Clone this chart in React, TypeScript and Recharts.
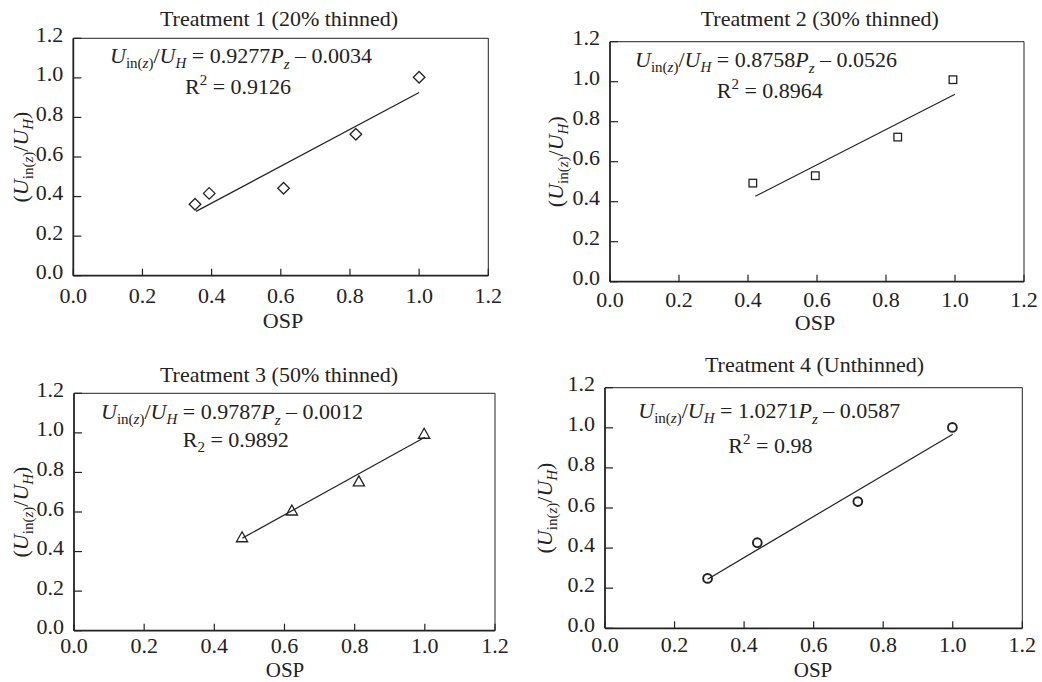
import React from 'react';
import { ScatterChart, Scatter, XAxis, YAxis, ReferenceLine } from 'recharts';

const FONT = '"Liberation Serif", "Times New Roman", Times, serif';
const INK = '#222';

// Shared axis ticks (OSP on x, velocity ratio on y)
const axisTicks = [0, 0.2, 0.4, 0.6, 0.8, 1.0, 1.2];

// Panel titles and regression annotations
const titles = [
  'Treatment 1 (20% thinned)',
  'Treatment 2 (30% thinned)',
  'Treatment 3 (50% thinned)',
  'Treatment 4 (Unthinned)',
];
const slopes = ['0.9277', '0.8758', '0.9787', '1.0271'];
const intercepts = ['0.0034', '0.0526', '0.0012', '0.0587'];
const rSquared = ['0.9126', '0.8964', '0.9892', '0.98'];

// Treatment 1 observations
const osp1 = [0.352, 0.393, 0.608, 0.817, 1.0];
const ratio1 = [0.361, 0.416, 0.442, 0.715, 1.003];
// Treatment 2 observations
const osp2 = [0.414, 0.595, 0.834, 0.994];
const ratio2 = [0.493, 0.53, 0.723, 1.01];
// Treatment 3 observations
const osp3 = [0.479, 0.621, 0.812, 0.998];
const ratio3 = [0.475, 0.61, 0.757, 0.998];
// Treatment 4 observations
const osp4 = [0.295, 0.438, 0.727, 0.999];
const ratio4 = [0.249, 0.427, 0.632, 1.002];

// Fitted line end points
const fitOsp1 = [0.355, 1.0];
const fitRatio1 = [0.325, 0.926];
const fitOsp2 = [0.421, 1.0];
const fitRatio2 = [0.427, 0.937];
const fitOsp3 = [0.48, 1.0];
const fitRatio3 = [0.468, 0.978];
const fitOsp4 = [0.295, 1.0];
const fitRatio4 = [0.245, 0.968];

const toPoints = (xs: number[], ys: number[]) => xs.map((x, i) => ({ x, y: ys[i] }));

type Marker = 'diamond' | 'square' | 'triangle' | 'circle';

const MarkerShape = ({ cx, cy, kind }: { cx: number; cy: number; kind: Marker }) => {
  const common = { fill: 'none', stroke: INK };
  if (kind === 'diamond') {
    const r = 5.8;
    return <path d={`M${cx},${cy - r}L${cx + r},${cy}L${cx},${cy + r}L${cx - r},${cy}Z`} {...common} strokeWidth={1.3} />;
  }
  if (kind === 'square') {
    const h = 3.8;
    return <rect x={cx - h} y={cy - h} width={2 * h} height={2 * h} {...common} strokeWidth={1.3} />;
  }
  if (kind === 'triangle') {
    const w = 5.6;
    const ht = 10;
    return (
      <path
        d={`M${cx},${cy - ht / 2}L${cx + w},${cy + ht / 2}L${cx - w},${cy + ht / 2}Z`}
        {...common}
        strokeWidth={1.3}
      />
    );
  }
  return <circle cx={cx} cy={cy} r={4.4} {...common} strokeWidth={1.9} />;
};

interface PanelCfg {
  left: number;
  top: number;
  width: number;
  height: number;
  plot: { l: number; t: number; r: number; b: number };
  titleX: number;
  titleY: number;
  eqX: number;
  eqY: number;
  rX: number;
  rY: number;
  yLabOff: number;
  ospX: number;
  ospDy: number;
  ospSize: number;
  xTickDy: number;
  rSub: boolean;
  marker: Marker;
  points: { x: number; y: number }[];
  fit: { x: number; y: number }[];
}

const panels: PanelCfg[] = [
  {
    left: 0, top: 0, width: 520, height: 340,
    plot: { l: 73.3, t: 38.3, r: 488.3, b: 275.7 },
    titleX: 279, titleY: 26, eqX: 110, eqY: 62.7, rX: 185, rY: 94,
    yLabOff: 45, ospX: 283, ospDy: 52.5, ospSize: 22, xTickDy: 27, rSub: false, marker: 'diamond',
    points: toPoints(osp1, ratio1), fit: toPoints(fitOsp1, fitRatio1),
  },
  {
    left: 520, top: 0, width: 522, height: 340,
    plot: { l: 90, t: 41.7, r: 504, b: 281.7 },
    titleX: 299.7, titleY: 26, eqX: 115, eqY: 66.7, rX: 196.7, rY: 97.7,
    yLabOff: 47, ospX: 295, ospDy: 48, ospSize: 22, xTickDy: 25, rSub: false, marker: 'square',
    points: toPoints(osp2, ratio2), fit: toPoints(fitOsp2, fitRatio2),
  },
  {
    left: 0, top: 340, width: 520, height: 342,
    plot: { l: 74, t: 53.3, r: 495, b: 290.7 },
    titleX: 279, titleY: 41.7, eqX: 101, eqY: 79, rX: 182.7, rY: 107.3,
    yLabOff: 46, ospX: 285, ospDy: 46.5, ospSize: 21, xTickDy: 22.5, rSub: true, marker: 'triangle',
    points: toPoints(osp3, ratio3), fit: toPoints(fitOsp3, fitRatio3),
  },
  {
    left: 520, top: 340, width: 522, height: 342,
    plot: { l: 85, t: 47.7, r: 502.3, b: 288.3 },
    titleX: 294.5, titleY: 31.7, eqX: 118.3, eqY: 77.7, rX: 208.3, rY: 113.3,
    yLabOff: 53, ospX: 293, ospDy: 49, ospSize: 21, xTickDy: 23.5, rSub: false, marker: 'circle',
    points: toPoints(osp4, ratio4), fit: toPoints(fitOsp4, fitRatio4),
  },
];

const SUB = 15;
const MAIN = 22;

const Equation = ({ x, y, slope, intercept }: { x: number; y: number; slope: string; intercept: string }) => (
  <text x={x} y={y} fontFamily={FONT} fontSize={MAIN} fill={INK} style={{ whiteSpace: 'pre' }}>
    <tspan fontStyle="italic">U</tspan>
    <tspan fontSize={SUB} dy={5}>in(</tspan>
    <tspan fontSize={SUB} fontStyle="italic">z</tspan>
    <tspan fontSize={SUB}>)</tspan>
    <tspan dy={-5}>/</tspan>
    <tspan fontStyle="italic">U</tspan>
    <tspan fontSize={SUB} fontStyle="italic" dy={5}>H</tspan>
    <tspan dy={-5}>{` = ${slope}`}</tspan>
    <tspan fontStyle="italic">P</tspan>
    <tspan fontSize={SUB} fontStyle="italic" dy={6}>z</tspan>
    <tspan dy={-6}>{` \u2013 ${intercept}`}</tspan>
  </text>
);

const RLine = ({ x, y, value, sub }: { x: number; y: number; value: string; sub: boolean }) => (
  <text x={x} y={y} fontFamily={FONT} fontSize={MAIN} fill={INK} style={{ whiteSpace: 'pre' }}>
    <tspan>R</tspan>
    <tspan fontSize={SUB} dy={sub ? 5 : -9}>2</tspan>
    <tspan dy={sub ? -5 : 9}>{` = ${value}`}</tspan>
  </text>
);

const YTitle = ({ x, y }: { x: number; y: number }) => (
  <text
    x={x}
    y={y}
    transform={`rotate(-90, ${x}, ${y})`}
    textAnchor="middle"
    fontFamily={FONT}
    fontSize={MAIN}
    fill={INK}
  >
    <tspan>(</tspan>
    <tspan fontStyle="italic">U</tspan>
    <tspan fontSize={SUB} dy={5}>in(</tspan>
    <tspan fontSize={SUB} fontStyle="italic">z</tspan>
    <tspan fontSize={SUB}>)</tspan>
    <tspan dy={-5}>/</tspan>
    <tspan fontStyle="italic">U</tspan>
    <tspan fontSize={SUB} fontStyle="italic" dy={5}>H</tspan>
    <tspan dy={-5}>)</tspan>
  </text>
);

const Panel = ({ cfg, index }: { cfg: PanelCfg; index: number }) => {
  const { plot, width, height } = cfg;
  const yAxisW = 50;
  const xAxisH = 40;
  const margin = {
    top: plot.t,
    right: width - plot.r,
    bottom: height - plot.b - xAxisH,
    left: plot.l - yAxisW,
  };
  const xTick = (props: any) => {
    const { x, y, payload } = props;
    return (
      <g>
        <line x1={x} y1={y} x2={x} y2={y - 7} stroke={INK} strokeWidth={1.2} />
        <text x={x} y={y + cfg.xTickDy} textAnchor="middle" fontFamily={FONT} fontSize={MAIN} fill={INK}>
          {Number(payload.value).toFixed(1)}
        </text>
      </g>
    );
  };
  const yTick = (props: any) => {
    const { x, y, payload } = props;
    return (
      <g>
        <line x1={x} y1={y} x2={x + 8} y2={y} stroke={INK} strokeWidth={1.2} />
        <text x={x - 10} y={y + 3.5} textAnchor="end" fontFamily={FONT} fontSize={MAIN} fill={INK}>
          {Number(payload.value).toFixed(1)}
        </text>
      </g>
    );
  };
  return (
    <div style={{ position: 'absolute', left: cfg.left, top: cfg.top, width, height }}>
      <ScatterChart width={width} height={height} margin={margin}>
        <XAxis
          type="number"
          dataKey="x"
          domain={[0, 1.2]}
          ticks={axisTicks}
          interval={0}
          height={xAxisH}
          tickSize={0}
          tickMargin={0}
          tickLine={false}
          axisLine={{ stroke: INK, strokeWidth: 1.8 }}
          tick={xTick}
          allowDataOverflow
        />
        <YAxis
          type="number"
          dataKey="y"
          domain={[0, 1.2]}
          ticks={axisTicks}
          interval={0}
          width={yAxisW}
          tickSize={0}
          tickMargin={0}
          tickLine={false}
          axisLine={{ stroke: INK, strokeWidth: 1.8 }}
          tick={yTick}
          allowDataOverflow
        />
        <ReferenceLine y={1.2} stroke={INK} strokeWidth={1} ifOverflow="visible" />
        <ReferenceLine x={1.2} stroke={INK} strokeWidth={1} ifOverflow="visible" />
        <Scatter
          data={cfg.fit}
          line={{ stroke: INK, strokeWidth: 1.2 }}
          shape={() => <g />}
          isAnimationActive={false}
        />
        <Scatter
          data={cfg.points}
          shape={(p: any) => <MarkerShape cx={p.cx} cy={p.cy} kind={cfg.marker} />}
          isAnimationActive={false}
        />
        <text x={cfg.titleX} y={cfg.titleY} textAnchor="middle" fontFamily={FONT} fontSize={MAIN} fill={INK}>
          {titles[index]}
        </text>
        <Equation x={cfg.eqX} y={cfg.eqY} slope={slopes[index]} intercept={intercepts[index]} />
        <RLine x={cfg.rX} y={cfg.rY} value={rSquared[index]} sub={cfg.rSub} />
        <YTitle x={plot.l - cfg.yLabOff} y={(plot.t + plot.b) / 2} />
        <text
          x={cfg.ospX}
          y={plot.b + cfg.ospDy}
          textAnchor="middle"
          fontFamily={FONT}
          fontSize={cfg.ospSize}
          fill={INK}
        >
          OSP
        </text>
      </ScatterChart>
    </div>
  );
};

export default function App() {
  return (
    <div
      style={{
        position: 'absolute',
        left: 0,
        top: 0,
        width: 1042,
        height: 682,
        background: '#fff',
        overflow: 'hidden',
      }}
    >
      {panels.map((cfg, i) => (
        <Panel key={i} cfg={cfg} index={i} />
      ))}
    </div>
  );
}
